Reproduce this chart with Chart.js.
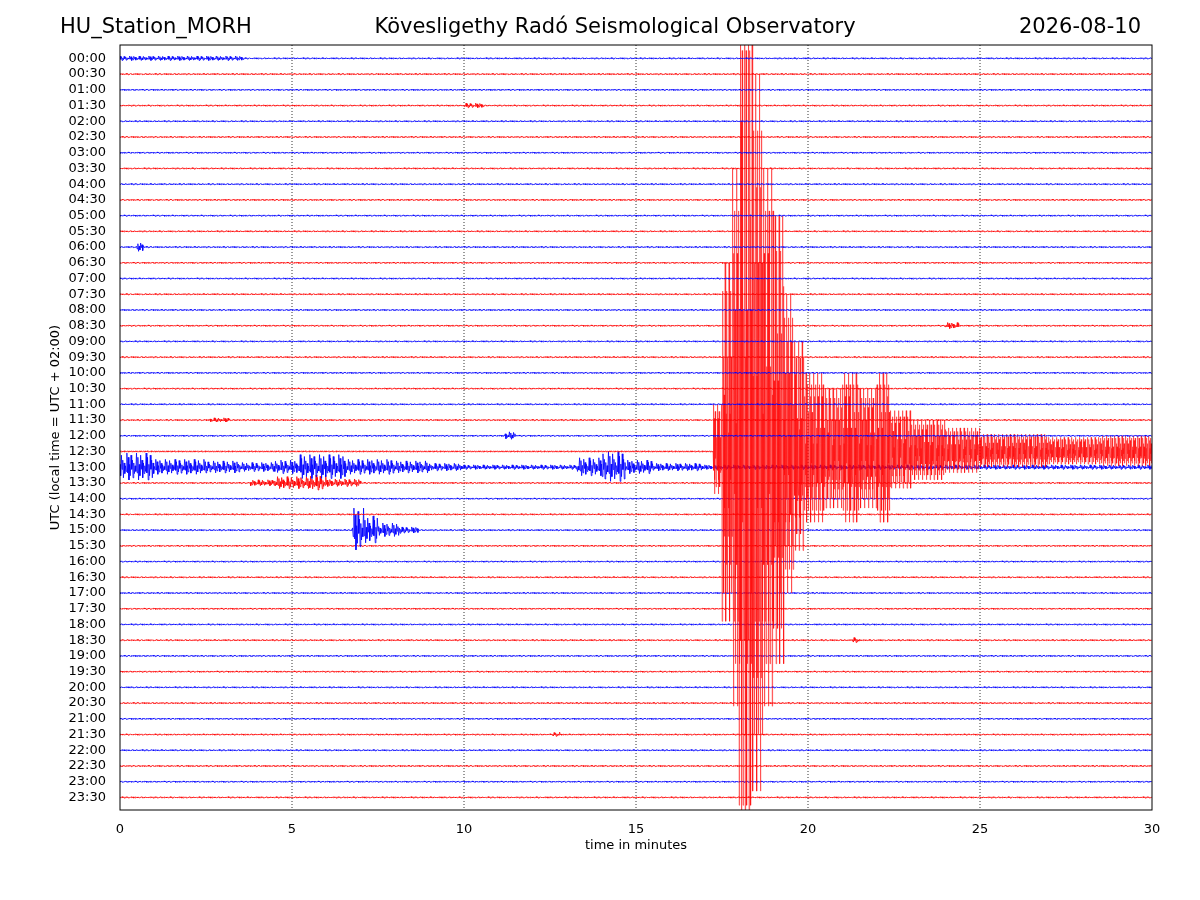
<!DOCTYPE html>
<html>
<head>
<meta charset="utf-8">
<script src="https://cdn.jsdelivr.net/npm/chart.js@4.4.1/dist/chart.umd.min.js"></script>
<style>
  body { margin: 0; background: #fff; }
  #wrap { width: 1200px; height: 900px; }
</style>
</head>
<body>
<div id="wrap"><canvas id="heli"></canvas></div>
<script>
// tick labels, one per 30 min line
const rowLabels = [];
for (let h = 0; h < 24; h++) {
  const hh = String(h).padStart(2, "0");
  rowLabels.push(hh + ":00", hh + ":30");
}
const xTicks = [0, 5, 10, 15, 20, 25, 30];
const quietAmp = 0.05;

// envelopes: [minute, amplitude in line spacings]
// (amplitude holds until the next keypoint)
const envelopes = {
  0:  [[0, 0.15], [3.6, quietAmp]],
  3:  [[10, 0.15], [10.6, quietAmp]],
  12: [[0.5, 0.3], [0.7, quietAmp]],
  17: [[24.0, 0.2], [24.4, quietAmp]],
  23: [[2.6, 0.14], [3.2, quietAmp]],
  24: [[11.2, 0.25], [11.5, quietAmp]],
  25: [[0, quietAmp], [17.25, 3], [17.5, 12], [17.8, 18], [18.0, 30], [18.4, 24],
       [18.7, 18], [19.0, 15], [19.3, 10], [19.6, 7], [19.9, 5], [20.5, 4],
       [21.0, 5], [21.5, 4], [22.0, 5], [22.4, 2.6], [23.0, 2.0], [24.0, 1.5],
       [25.0, 1.1], [27.0, 0.9], [28.5, 1.0]],
  26: [[0, 0.9], [1.0, 0.5], [2.5, 0.4], [3.5, 0.3], [4.5, 0.45], [5.2, 0.8],
       [6.6, 0.5], [8.0, 0.4], [9.0, 0.25], [10, 0.15], [13.3, 0.6], [14.0, 1.0],
       [14.7, 0.45], [15.5, 0.25], [17.0, 0.15]],
  27: [[3.8, 0.2], [4.5, 0.4], [5.5, 0.5], [6.0, 0.25], [7.0, quietAmp]],
  30: [[6.75, 1.4], [7.1, 0.9], [7.5, 0.45], [8.2, 0.2], [8.7, quietAmp]],
  37: [[21.3, 0.2], [21.5, quietAmp]],
  43: [[12.6, 0.15], [12.8, quietAmp]]
};
// fixed wiggle shape repeated along every trace
const wiggle = [1, -0.4, 0.7, -0.9, 0.2, -0.6, 0.85, -0.15, 0.5, -0.75, 0.3, -0.45, 0.1, -0.3];
const step = 0.02;
const eventStep = 0.008;

function ampAt(row, t) {
  const env = envelopes[row];
  let a = quietAmp;
  if (!env) return a;
  for (const [m, v] of env) if (t >= m) a = v;
  return a;
}

const datasets = rowLabels.map((lbl, row) => {
  const pts = [];
  let k = row * 5;
  const dt = row === 25 ? eventStep : step;
  const n = Math.round(30 / dt);
  for (let j = 0; j <= n; j++) {
    const t = j * dt;
    const a = ampAt(row, t);
    pts.push({ x: t, y: row - a * wiggle[k % wiggle.length] });
    k++;
  }
  return {
    label: lbl,
    data: pts,
    borderColor: row % 2 === 0 ? "#0000ff" : "#ff0000",
    borderWidth: row === 25 ? 0.5 : 0.8,
    pointRadius: 0,
    tension: 0,
    parsing: false,
    normalized: true
  };
});

const decor = {
  id: "decor",
  beforeDatasetsDraw(chart) {
    const { ctx, chartArea: a, scales } = chart;
    ctx.save();
    ctx.strokeStyle = "#000";
    ctx.lineWidth = 0.8;
    ctx.setLineDash([1, 2]);
    xTicks.slice(1, -1).forEach(v => {
      const x = scales.x.getPixelForValue(v);
      ctx.beginPath(); ctx.moveTo(x, a.top); ctx.lineTo(x, a.bottom); ctx.stroke();
    });
    ctx.restore();
  },
  afterDraw(chart) {
    const { ctx, chartArea: a } = chart;
    ctx.save();
    ctx.strokeStyle = "#000";
    ctx.lineWidth = 1;
    ctx.strokeRect(a.left, a.top, a.right - a.left, a.bottom - a.top);
    ctx.fillStyle = "#000";
    ctx.font = "21px 'DejaVu Sans'";
    ctx.textBaseline = "middle";
    ctx.textAlign = "left";
    ctx.fillText("HU_Station_MORH", 60, 28);
    ctx.textAlign = "center";
    ctx.fillText("Kövesligethy Radó Seismological Observatory", 615, 28);
    ctx.textAlign = "right";
    ctx.fillText("2026-08-10", 1141, 28);
    ctx.restore();
  }
};

new Chart(document.getElementById("heli"), {
  type: "line",
  data: { datasets },
  options: {
    responsive: true,
    maintainAspectRatio: false,
    animation: false,
    events: [],
    layout: { padding: { left: 48, right: 48, top: 45, bottom: 45 } },
    plugins: { legend: { display: false }, tooltip: { enabled: false }, title: { display: false } },
    scales: {
      x: {
        type: "linear",
        min: 0, max: 30,
        grid: { display: false },
        border: { display: false },
        afterBuildTicks: s => { s.ticks = xTicks.map(v => ({ value: v })); },
        afterFit: s => { s.height = 45; },
        ticks: { color: "#000", font: { family: "DejaVu Sans", size: 13 }, padding: 4 },
        title: { display: true, text: "time in minutes", color: "#000",
                 font: { family: "DejaVu Sans", size: 13 }, padding: 2 }
      },
      y: {
        type: "linear",
        reverse: true,
        min: -0.85, max: 47.8,
        grid: { display: false },
        border: { display: false },
        afterBuildTicks: s => { s.ticks = rowLabels.map((l, i) => ({ value: i })); },
        afterFit: s => { s.width = 72; },
        ticks: { color: "#000", font: { family: "DejaVu Sans", size: 13 }, padding: 6,
                 autoSkip: false, callback: v => rowLabels[v] },
        title: { display: true, text: "UTC (local time = UTC + 02:00)", color: "#000",
                 font: { family: "DejaVu Sans", size: 13 }, padding: 0 }
      }
    }
  },
  plugins: [decor]
});
</script>
</body>
</html>
